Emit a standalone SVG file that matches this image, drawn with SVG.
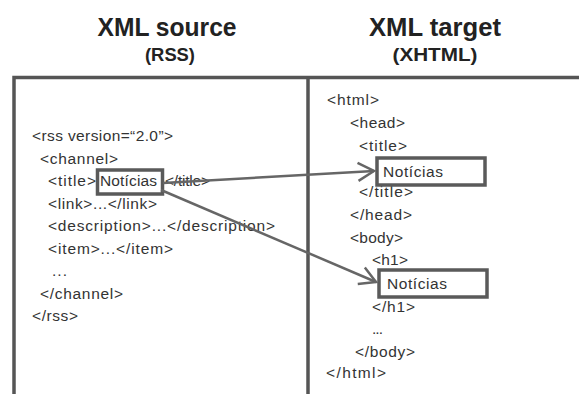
<svg xmlns="http://www.w3.org/2000/svg" width="579" height="394" viewBox="0 0 579 394">
<defs>
<style>
.title{font-family:"Liberation Sans",Arial,sans-serif;font-weight:bold;fill:#222;text-anchor:middle}
.code{font-family:"Liberation Sans",Arial,sans-serif;font-size:15.5px;fill:#333}
.frame{stroke:#555;stroke-width:3.5;fill:none}
.box{stroke:#5a5a5a;stroke-width:3.5;fill:none}
.conn{stroke:#666;stroke-width:2.5;fill:none}
</style>
<marker id="chev" markerUnits="userSpaceOnUse" markerWidth="24" markerHeight="24" viewBox="-20 -12 24 24" refX="0" refY="0" orient="auto">
<path d="M-16,-9 L0,0 L-16,9" fill="none" stroke="#666" stroke-width="2.5"/>
</marker>
</defs>
<rect width="579" height="394" fill="#fff"/>
<g id="headers">
<text class="title" x="167" y="36" font-size="25" textLength="139" lengthAdjust="spacingAndGlyphs">XML source</text>
<text class="title" x="170" y="61" font-size="19" textLength="50" lengthAdjust="spacingAndGlyphs">(RSS)</text>
<text class="title" x="435" y="36" font-size="25" textLength="132" lengthAdjust="spacingAndGlyphs">XML target</text>
<text class="title" x="435" y="61" font-size="19" textLength="85" lengthAdjust="spacingAndGlyphs">(XHTML)</text>
</g>
<g id="frame">
<path class="frame" d="M14,394 V77.5 H579"/>
<path class="frame" d="M308,77.5 V394"/>
</g>
<g id="source">
<text class="code" x="32" y="141" textLength="141">&lt;rss version=“2.0”&gt;</text>
<text class="code" x="40" y="163.5" textLength="78">&lt;channel&gt;</text>
<text class="code" x="48" y="186" textLength="48">&lt;title&gt;</text>
<text class="code" x="100" y="186" textLength="57">Notícias</text>
<text class="code" x="165" y="186" textLength="45">&lt;/title&gt;</text>
<text class="code" x="48" y="208.5" textLength="109">&lt;link&gt;...&lt;/link&gt;</text>
<text class="code" x="48" y="231" textLength="227">&lt;description&gt;...&lt;/description&gt;</text>
<text class="code" x="48" y="254" textLength="125">&lt;item&gt;...&lt;/item&gt;</text>
<text class="code" x="52" y="276" textLength="15">...</text>
<text class="code" x="40" y="299" textLength="83">&lt;/channel&gt;</text>
<text class="code" x="32" y="321" textLength="46">&lt;/rss&gt;</text>
</g>
<g id="source-title-box">
<rect class="box" x="97.5" y="170" width="65" height="24"/>
</g>
<g id="target">
<text class="code" x="327" y="105" textLength="52">&lt;html&gt;</text>
<text class="code" x="350" y="128" textLength="55">&lt;head&gt;</text>
<text class="code" x="359" y="151" textLength="48">&lt;title&gt;</text>
<text class="code" x="383" y="177" textLength="60">Notícias</text>
<text class="code" x="359" y="197" textLength="54">&lt;/title&gt;</text>
<text class="code" x="350" y="220" textLength="62">&lt;/head&gt;</text>
<text class="code" x="350" y="243" textLength="53">&lt;body&gt;</text>
<text class="code" x="372" y="265" textLength="36">&lt;h1&gt;</text>
<text class="code" x="387" y="289" textLength="60">Notícias</text>
<text class="code" x="372" y="312" textLength="43">&lt;/h1&gt;</text>
<text class="code" x="372" y="334" textLength="11">...</text>
<text class="code" x="355" y="357" textLength="60">&lt;/body&gt;</text>
<text class="code" x="326" y="378" textLength="60">&lt;/html&gt;</text>
</g>
<g id="target-title-box">
<rect class="box" x="377" y="158" width="108" height="27"/>
</g>
<g id="target-h1-box">
<rect class="box" x="379" y="270" width="108" height="27"/>
</g>
<g id="connectors">
<path class="conn" d="M163,183 L374,171" marker-end="url(#chev)"/>
<path class="conn" d="M161,190 L376,282" marker-end="url(#chev)"/>
</g>
</svg>
